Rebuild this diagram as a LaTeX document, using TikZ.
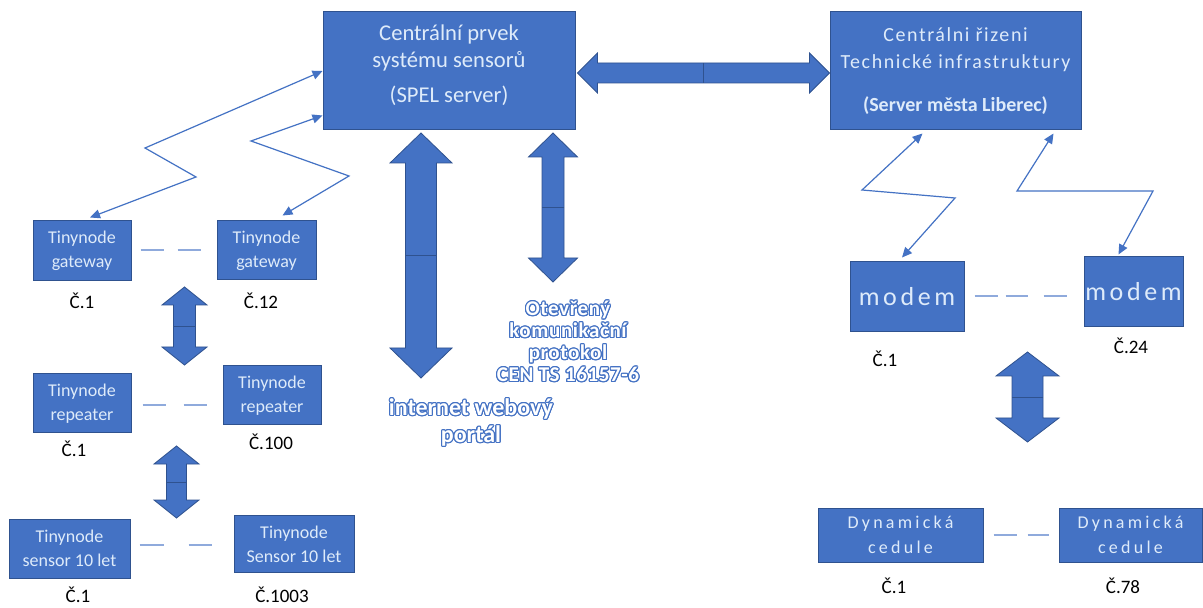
\documentclass[tikz,border=0pt]{standalone}
\usepackage{fontspec}
\setmainfont{Carlito}
\usepackage{contour}
\usetikzlibrary{arrows.meta,calc,positioning}

\definecolor{boxblue}{RGB}{68,114,196}
\definecolor{edgeblue}{RGB}{47,82,143}
\definecolor{paletext}{RGB}{222,235,250}
\definecolor{dashblue}{RGB}{143,170,220}

\contourlength{0.55pt}
\newcommand{\wide}[2]{{\addfontfeature{LetterSpace=#1}#2}}

% double block arrow: ends, shaft half width, head half width, head length
\newcommand{\blockarrow}[5]{%
  \draw[draw=edgeblue, line width=0.4pt, fill=boxblue, line join=miter]
    (#1) -- ($(#1)!#5!(#2)!#4!90:(#2)$) -- ($(#1)!#5!(#2)!#3!90:(#2)$)
    -- ($(#2)!#5!(#1)!#3!-90:(#1)$) -- ($(#2)!#5!(#1)!#4!-90:(#1)$)
    -- (#2) -- ($(#2)!#5!(#1)!#4!90:(#1)$) -- ($(#2)!#5!(#1)!#3!90:(#1)$)
    -- ($(#1)!#5!(#2)!#3!-90:(#2)$) -- ($(#1)!#5!(#2)!#4!-90:(#2)$) -- cycle;
  \draw[edgeblue, line width=0.4pt] ($(#1)!0.5!(#2)!#3!90:(#2)$) -- ($(#1)!0.5!(#2)!#3!-90:(#2)$);
}

\tikzset{
  unit/.style={draw=edgeblue, line width=0.5pt, fill=boxblue, text=paletext, align=center,
    inner sep=0pt, font=\fontsize{9}{12}\selectfont},
  unittext/.style={text=paletext, align=center, inner sep=0pt},
  num/.style={text=black, font=\fontsize{9.5}{11}\selectfont},
  radio/.style={draw=boxblue, line width=0.6pt, line join=miter,
    arrows={Triangle[length=5pt,width=4.5pt]-Triangle[length=5pt,width=4.5pt]}},
  gap/.style={draw=dashblue, line width=0.6pt},
  outl/.style={text=white, align=center}
}

\begin{document}
\begin{tikzpicture}[x=0.5pt, y=-0.5pt]
\useasboundingbox[fill=white] (0,0) rectangle (1203,608);

% servers
\node[unit, minimum width=126pt, minimum height=59pt] (spel) at (449,71) {};
\node[unittext, font=\fontsize{11.3}{13.5}\selectfont] (spelt) at ($(spel)+(0,-6)$)
  {Centrální prvek\\systému sensorů\\[4pt](SPEL server)};
\node[unit, minimum width=125.5pt, minimum height=59pt, font=\fontsize{10}{13.5}\selectfont] (liberec) at (955.5,71)
  {\wide{8}{Centrálni řizeni}\\\wide{8}{Technické infrastruktury}\\[8pt]\textbf{(Server města Liberec)}};

% sensor network
\node[unit, minimum width=49pt, minimum height=30pt] (gw1) at (82,251) {Tinynode\\gateway};
\node[unit, minimum width=49.5pt, minimum height=29.5pt] (gw12) at (266.5,250.5) {Tinynode\\gateway};
\node[unit, minimum width=49pt, minimum height=29.5pt] (rp1) at (82,403.5) {Tinynode\\repeater};
\node[unit, minimum width=49pt, minimum height=29.5pt] (rp100) at (272,395.5) {Tinynode\\repeater};
\node[unit, minimum width=60.5pt, minimum height=29.5pt] (sn1) at (69.5,548.5) {Tinynode\\sensor 10 let};
\node[unit, minimum width=60pt, minimum height=28.5pt] (sn1003) at (294,544) {Tinynode\\Sensor 10 let};

% city side
\node[unit, minimum width=57pt, minimum height=35pt, font=\fontsize{13}{15}\selectfont] (md1) at (907,297) {\wide{14}{modem}};
\node[unit, minimum width=49.5pt, minimum height=35pt, font=\fontsize{13}{15}\selectfont] (md24) at (1133.5,292) {\wide{14}{modem}};
\node[unit, minimum width=82.5pt, minimum height=27pt, font=\fontsize{9}{12.5}\selectfont] (dy1) at (900.5,535) {\wide{18}{Dynamická}\\\wide{18}{cedule}};
\node[unit, minimum width=71.5pt, minimum height=27pt, font=\fontsize{9}{12.5}\selectfont] (dy78) at (1130.5,535) {\wide{18}{Dynamická}\\\wide{18}{cedule}};

% numbers
\node[num] (ngw1) at (82,301) {Č.1};
\node[num] (ngw12) at (261,301) {Č.12};
\node[num] (nrp1) at (74,449) {Č.1};
\node[num] (nrp100) at (271,442) {Č.100};
\node[num] (nsn1) at (78,595) {Č.1};
\node[num] (nsn1003) at (282,595) {Č.1003};
\node[num] (nmd1) at (885,359) {Č.1};
\node[num] (nmd24) at (1131,346) {Č.24};
\node[num] (ndy1) at (894,586) {Č.1};
\node[num] (ndy78) at (1123,586) {Č.78};

% block arrows
\coordinate (hA) at ($(spel.east)+(2,2)$);
\coordinate (hB) at ($(liberec.west)+(0,2)$);
\coordinate (wA) at (421,133);
\coordinate (wB) at (421,378);
\coordinate (pA) at (553,133);
\coordinate (pB) at (553,282);
\coordinate (gA) at (184.5,287);
\coordinate (gB) at (184.5,365);
\coordinate (rA) at (176.5,446);
\coordinate (rB) at (176.5,518);
\coordinate (mA) at (1027.5,352);
\coordinate (mB) at (1027.5,442);
\blockarrow{hA}{hB}{5pt}{10pt}{10pt}
\blockarrow{wA}{wB}{7.75pt}{15.5pt}{15pt}
\blockarrow{pA}{pB}{5.5pt}{12.25pt}{12pt}
\blockarrow{gA}{gB}{5.5pt}{11.25pt}{9pt}
\blockarrow{rA}{rB}{5pt}{11.25pt}{9pt}
\blockarrow{mA}{mB}{7.75pt}{15.75pt}{12pt}

% arrow labels
\node[outl, font=\bfseries\fontsize{12}{13.5}\selectfont] (weblbl) at (471,423)
  {\contour{boxblue}{internet webový}\\\contour{boxblue}{portál}};
\node[outl, font=\bfseries\fontsize{10.5}{11}\selectfont] (protlbl) at (568,342)
  {\contour{boxblue}{\wide{3}{Otevřený}}\\\contour{boxblue}{\wide{3}{komunikační}}\\
   \contour{boxblue}{\wide{3}{protokol}}\\\contour{boxblue}{\wide{3}{CEN TS 16157-6}}};

% radio links
\draw[radio] (spel.west) -- (145,148) -- (196,177) -- ($(gw1.north)+(8,-3)$);
\draw[radio] ($(spel.south west)+(0,-15)$) -- (251,141) -- (349,176) -- ($(gw12.north)+(16,-5)$);
\draw[radio] ($(liberec.south)+(-33,3)$) -- (862,190) -- (955,198) -- ($(md1.north)+(-5,-4)$);
\draw[radio] ($(liberec.south east)+(-28,3)$) -- (1017,191) -- (1153,191) -- ($(md24.north)+(-15,-2)$);

% dashed gaps
\draw[gap, dash pattern=on 11.5pt off 7pt] ($(gw1.east)+(9,-1)$) -- ($(gw12.west)+(-16,-0.5)$);
\draw[gap, dash pattern=on 11.5pt off 9pt] ($(rp1.east)+(11,1.5)$) -- ($(rp100.west)+(-16,9.5)$);
\draw[gap, dash pattern=on 12pt off 12.5pt] ($(sn1.east)+(9,-3.5)$) -- ($(sn1003.west)+(-22,1)$);
\draw[gap, dash pattern=on 11.5pt off 4pt on 11pt off 8pt] ($(md1.east)+(10,-1)$) -- ($(md24.west)+(-17,4)$);
\draw[gap, dash pattern=on 11.5pt off 5.5pt] ($(dy1.east)+(10,0)$) -- ($(dy78.west)+(-10,0)$);
\end{tikzpicture}
\end{document}
